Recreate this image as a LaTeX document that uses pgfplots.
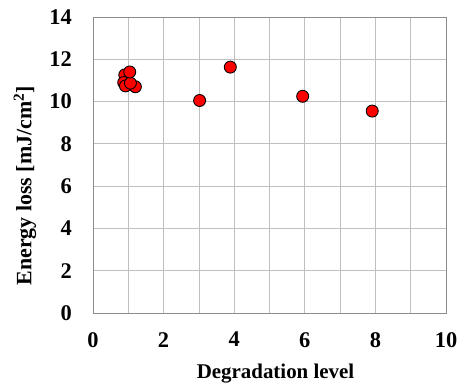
\documentclass[border=0pt]{standalone}
\usepackage{pgfplots}
\pgfplotsset{compat=1.18}
\usepackage{fontspec}
\setmainfont{Liberation Serif}
\begin{document}
\begin{tikzpicture}
\path[use as bounding box] (-93bp,-70bp) rectangle (369bp,313bp);
\begin{axis}[
  at={(0,0)}, anchor=south west,
  scale only axis, width=353bp, height=296bp,
  xmin=0, xmax=10, ymin=0, ymax=14,
  xtick={0,2,...,10}, ytick={0,2,...,14},
  minor xtick={1,3,5,7,9},
  grid=both,
  major grid style={draw=black!25, line width=0.8pt},
  minor grid style={draw=black!25, line width=0.8pt},
  axis line style={draw=black!45, line width=0.8pt},
  major tick length=0pt, minor tick length=0pt,
  /pgf/number format/assume math mode=true,
  ticklabel style={font=\fontsize{22.5}{26}\selectfont\bfseries, inner sep=0pt},
  xticklabel style={anchor=north, yshift=-19bp},
  yticklabel style={anchor=east, xshift=-21bp},
  label style={font=\fontsize{21}{24}\selectfont\bfseries},
  xlabel={Degradation level},
  ylabel={Energy loss [mJ/cm\textsuperscript{2}]},
  xlabel style={at={(axis description cs:0.517,0)}, anchor=base, yshift=-65bp, inner sep=0pt},
  ylabel style={at={(axis description cs:-0.193,0.43)}, anchor=center, inner sep=0pt, font=\fontsize{22}{25}\selectfont\bfseries},
]
\addplot[only marks, mark=*, mark size=6bp, mark options={fill=red, draw=black, line width=0.9pt}]
coordinates {
  (0.90,11.26) (0.87,10.90) (0.92,10.74) (1.20,10.70) (1.06,10.87) (1.04,11.40)
  (3.02,10.05) (3.89,11.63) (5.94,10.25) (7.91,9.55)
};
\end{axis}
\end{tikzpicture}
\end{document}
